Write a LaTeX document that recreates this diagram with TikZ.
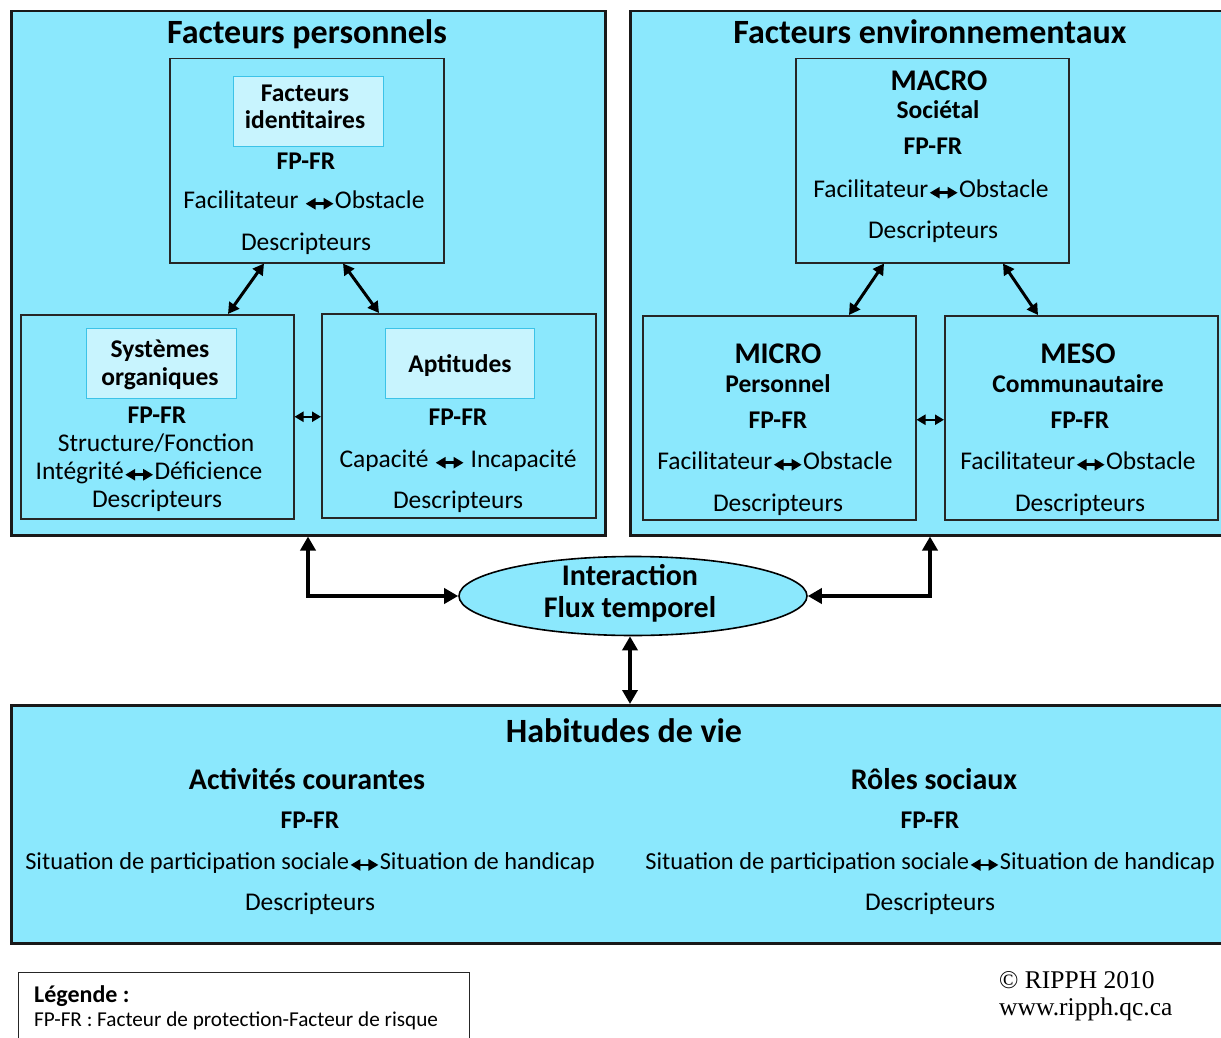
\documentclass[tikz,border=0pt]{standalone}
\usepackage{fontspec}
\setmainfont{Carlito}
\newfontfamily\timesf{Liberation Serif}
\usetikzlibrary{arrows.meta,shapes.geometric}
\definecolor{cyanbg}{RGB}{139,232,253}
\definecolor{lightbox}{RGB}{200,244,254}
\definecolor{lightedge}{RGB}{60,195,232}
\newcommand\dbl{\tikz[baseline=-0.35ex,x=1pt,y=1pt]\draw[line width=2.6pt,{Triangle[length=10pt,width=11pt]}-{Triangle[length=10pt,width=11pt]}](0,0)--(28,0);}
\tikzset{
  bigbox/.style={draw=black!90, line width=2.5pt, fill=cyanbg, inner sep=0pt, anchor=north west},
  midbox/.style={draw=black!85, line width=1.5pt, fill=cyanbg, inner sep=0pt, anchor=north west, minimum width=273pt, minimum height=204pt},
  litebox/.style={draw=lightedge, line width=1.2pt, fill=lightbox, inner sep=0pt, anchor=north west, minimum width=150pt, minimum height=70pt},
  ttl/.style={font=\fontsize{34}{38}\selectfont\bfseries, anchor=base, inner sep=0pt},
  big/.style={font=\fontsize{30}{32}\selectfont\bfseries, anchor=base, inner sep=0pt},
  bodyb/.style={font=\fontsize{25.5}{28}\selectfont\bfseries, anchor=base, inner sep=0pt},
  body/.style={font=\fontsize{25.5}{28}\selectfont, anchor=base, inner sep=0pt},
  bodys/.style={font=\fontsize{24.4}{28}\selectfont, anchor=base, inner sep=0pt},
  sarr/.style={line width=2.2pt, {Triangle[length=9pt,width=10pt]}-{Triangle[length=9pt,width=10pt]}},
  marr/.style={line width=3pt, {Triangle[length=11pt,width=12pt]}-{Triangle[length=11pt,width=12pt]}},
  barr/.style={line width=4.5pt, {Triangle[length=14pt,width=15pt]}-{Triangle[length=14pt,width=15pt]}},
}
\begin{document}
\begin{tikzpicture}[x=1pt,y=-1pt]
\useasboundingbox[fill=white] (0,0) rectangle (1221,1038);
% big boxes
\node[bigbox, minimum width=594pt, minimum height=524pt] (lp) at (10,10) {};
\node[bigbox, minimum width=595pt, minimum height=524pt] (rp) at (629,10) {};
\node[bigbox, minimum width=1214pt, minimum height=238pt] (hv) at (10,704) {};
\node[ttl] (lpt) at (307,44) {Facteurs personnels};
\node[ttl] (rpt) at (930,44) {Facteurs environnementaux};
% left inner boxes
\node[midbox, minimum width=274pt] (fi) at (169,58) {};
\node[litebox] (fil) at (233,76) {};
\node[bodyb, align=center] (filt) at (305,129) {Facteurs\\[0pt]identitaires};
\node[bodyb] (fi1) at (306,169) {FP-FR};
\node[body] (fi2) at (304,208) {Facilitateur \dbl Obstacle};
\node[body] (fi3) at (306,250) {Descripteurs};

\node[midbox] (so) at (20,314) {};
\node[litebox] (sol) at (86,328) {};
\node[bodyb, align=center] (solt) at (160,385) {Systèmes\\[0pt]organiques};
\node[bodyb] (so1) at (157,423) {FP-FR};
\node[body] (so2) at (156,451) {Structure/Fonction};
\node[body] (so3) at (149,479) {Intégrité\dbl Déficience};
\node[body] (so4) at (157,507) {Descripteurs};

\node[midbox, minimum width=274pt] (ap) at (321,313) {};
\node[litebox, minimum width=149pt] (apl) at (385,328) {};
\node[bodyb] (aplt) at (460,372) {Aptitudes};
\node[bodyb] (ap1) at (458,425) {FP-FR};
\node[body] (ap2) at (458,467) {Capacité \dbl\ Incapacité};
\node[body] (ap3) at (458,508) {Descripteurs};

% right inner boxes
\node[midbox] (ma) at (795,58) {};
\node[big] (ma0) at (939,91) {MACRO};
\node[bodyb] (ma1) at (938,119) {Sociétal};
\node[bodyb] (ma2) at (933,155) {FP-FR};
\node[body] (ma3) at (931,197) {Facilitateur\dbl Obstacle};
\node[body] (ma4) at (933,238) {Descripteurs};

\node[midbox] (mi) at (642,315) {};
\node[big] (mi0) at (778,363) {MICRO};
\node[bodyb] (mi1) at (778,392) {Personnel};
\node[bodyb] (mi2) at (778,428) {FP-FR};
\node[body] (mi3) at (775,469) {Facilitateur\dbl Obstacle};
\node[body] (mi4) at (778,511) {Descripteurs};

\node[midbox] (me) at (944,315) {};
\node[big] (me0) at (1078,363) {MESO};
\node[bodyb] (me1) at (1078,392) {Communautaire};
\node[bodyb] (me2) at (1080,428) {FP-FR};
\node[body] (me3) at (1078,469) {Facilitateur\dbl Obstacle};
\node[body] (me4) at (1080,511) {Descripteurs};

% arrows inside
\draw[marr] ([xshift=95pt]fi.south west) -- ([xshift=208pt]so.north west);
\draw[marr] ([xshift=174pt]fi.south west) -- ([xshift=58pt]ap.north west);
\draw[sarr] (so.east) -- (so.east -| ap.west);
\draw[marr] ([xshift=89pt]ma.south west) -- ([xshift=207pt]mi.north west);
\draw[marr] ([xshift=208pt]ma.south west) -- ([xshift=94pt]me.north west);
\draw[sarr] ([yshift=-2pt]mi.east) -- ([yshift=-2pt]mi.east -| me.west);

% ellipse
\node[ellipse, draw=black, line width=1.6pt, fill=cyanbg, minimum width=348pt, minimum height=79pt, inner sep=0pt] (el) at (633,596) {};
\node[big] (el1) at (630,585) {Interaction};
\node[big] (el2) at (630,617) {Flux temporel};
\draw[barr] (el.west) -| ([xshift=298pt]lp.south west);
\draw[barr] (el.east) -| ([xshift=301pt]rp.south west);
\draw[barr] ([xshift=-3pt]el.south) -- ([xshift=-3pt]el.south |- hv.north);

% bottom box texts
\node[ttl] (hvt) at (624,742) {Habitudes de vie};
\node[big] (ac0) at (307,789) {Activités courantes};
\node[bodyb] (ac1) at (310,828) {FP-FR};
\node[bodys] (ac2) at (310,869) {Situation de participation sociale\dbl Situation de handicap};
\node[body] (ac3) at (310,910) {Descripteurs};
\node[big] (rs0) at (934,789) {Rôles sociaux};
\node[bodyb] (rs1) at (930,828) {FP-FR};
\node[bodys] (rs2) at (930,869) {Situation de participation sociale\dbl Situation de handicap};
\node[body] (rs3) at (930,910) {Descripteurs};

% legend
\node[draw=black!85, line width=1.2pt, fill=white, anchor=north west, minimum width=451pt, minimum height=72pt, inner sep=0pt] (lg) at (18,972) {};
\node[font=\fontsize{24}{26}\selectfont\bfseries, anchor=base west, inner sep=0pt] (lg1) at (34,1002) {Légende :};
\node[font=\fontsize{21.2}{24}\selectfont, anchor=base west, inner sep=0pt] (lg2) at (34,1026) {FP-FR : Facteur de protection-Facteur de risque};

% copyright
\node[font=\timesf\fontsize{25.5}{28}\selectfont, anchor=base west, inner sep=0pt] (cp1) at (999,988) {© RIPPH 2010};
\node[font=\timesf\fontsize{25.5}{28}\selectfont, anchor=base west, inner sep=0pt] (cp2) at (999,1015) {www.ripph.qc.ca};
\end{tikzpicture}
\end{document}
